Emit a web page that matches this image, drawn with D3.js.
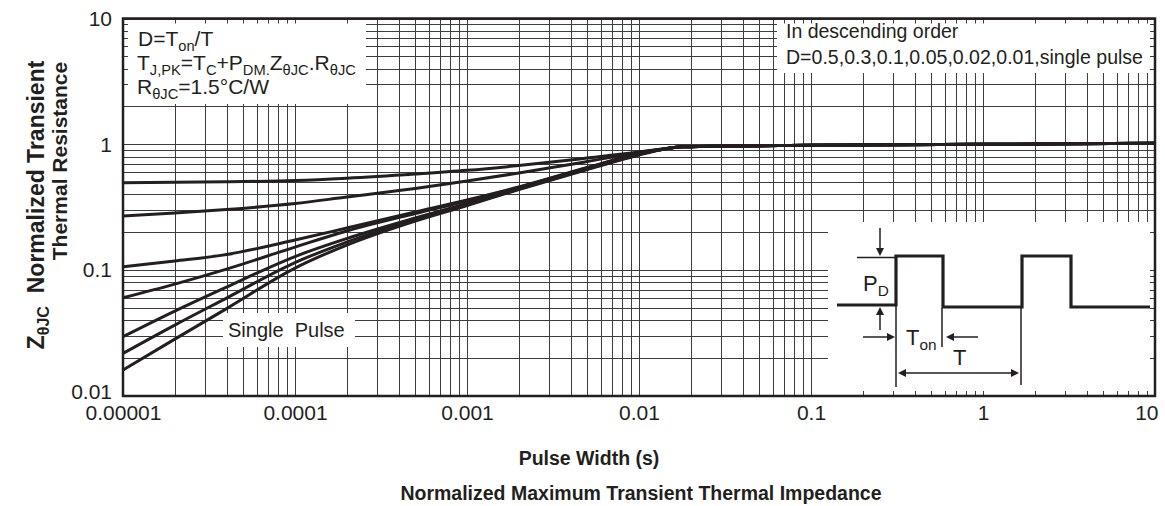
<!DOCTYPE html>
<html lang="en">
<head>
<meta charset="UTF-8">
<title>Normalized Maximum Transient Thermal Impedance</title>
<script src="https://d3js.org/d3.v7.min.js"></script>
<style>
  body { margin: 0; background: #fff; }
  svg text { font-family: "Liberation Sans", Arial, sans-serif; fill: #231f20; }
  .bold { font-weight: bold; }
</style>
</head>
<body>
<script>
const pulseWidth = [1e-5, 2e-5, 4e-5, 1e-4, 2e-4, 5e-4, 1e-3, 2e-3, 5e-3, 1e-2, 0.0132, 0.018, 0.1, 1, 10];
const dutyLabels = ["0.5", "0.3", "0.1", "0.05", "0.02", "0.01", "single pulse"];
const zD05 = [0.4953, 0.4988, 0.5044, 0.5155, 0.5377, 0.5806, 0.6214, 0.6785, 0.7782, 0.8685, 0.9127, 0.957, 0.982, 1.0, 1.018];
const zD03 = [0.2692, 0.2844, 0.3032, 0.3383, 0.3812, 0.4453, 0.5108, 0.5915, 0.7298, 0.8605, 0.909, 0.957, 0.982, 1.0, 1.018];
const zD01 = [0.1064, 0.1181, 0.1330, 0.1735, 0.2161, 0.2896, 0.3607, 0.4578, 0.6541, 0.8452, 0.905, 0.957, 0.982, 1.0, 1.018];
const zD005 = [0.0603, 0.0775, 0.1020, 0.1526, 0.2046, 0.2818, 0.3542, 0.4536, 0.6481, 0.8421, 0.904, 0.957, 0.982, 1.0, 1.018];
const zD002 = [0.0296, 0.0473, 0.0734, 0.1283, 0.1783, 0.2595, 0.3383, 0.4453, 0.6422, 0.8375, 0.904, 0.957, 0.982, 1.0, 1.018];
const zD001 = [0.0218, 0.0366, 0.0600, 0.1149, 0.1673, 0.2524, 0.3323, 0.4413, 0.6364, 0.8298, 0.904, 0.957, 0.982, 1.0, 1.018];
const zSingle = [0.0161, 0.0283, 0.0495, 0.1039, 0.1583, 0.2456, 0.3263, 0.4372, 0.6306, 0.8222, 0.903, 0.957, 0.982, 1.0, 1.018];

const xTickValues = [1e-5, 1e-4, 1e-3, 1e-2, 0.1, 1, 10];
const xTickLabels = ["0.00001", "0.0001", "0.001", "0.01", "0.1", "1", "10"];
const yTickValues = [0.01, 0.1, 1, 10];
const yTickLabels = ["0.01", "0.1", "1", "10"];

const W = 1165, H = 506;
const plot = { left: 123, right: 1155, top: 18.5, bottom: 396 };
const ink = "#231f20";

const svg = d3.select("body").append("svg")
    .attr("width", W)
    .attr("height", H);

const x = d3.scaleLog().domain([1e-5, 10]).range([plot.left, plot.right]);
const y = d3.scaleLog().domain([0.01, 10]).range([plot.bottom, plot.top]);

// log grid
const grid = svg.append("g")
    .attr("stroke", "#3c3c3c")
    .attr("stroke-width", 1)
    .attr("shape-rendering", "crispEdges");
grid.selectAll(".vx").data(x.ticks()).join("line")
    .attr("x1", d => Math.round(x(d)) + 0.5).attr("x2", d => Math.round(x(d)) + 0.5)
    .attr("y1", plot.top).attr("y2", plot.bottom);
grid.selectAll(".hy").data(y.ticks()).join("line")
    .attr("y1", d => Math.round(y(d)) + 0.5).attr("y2", d => Math.round(y(d)) + 0.5)
    .attr("x1", plot.left).attr("x2", plot.right);

// white label boxes laid over the grid
const boxes = [
  { x0: plot.left + 5, x1: 366, y0: plot.top + 5, y1: 104 },
  { x0: 777, x1: plot.right - 5, y0: plot.top + 5, y1: 73 },
  { x0: 223, x1: 355, y0: 313, y1: 347 },
  { x0: 828, x1: plot.right - 5, y0: 222, y1: plot.bottom - 5 }
];
svg.append("g").selectAll("rect").data(boxes).join("rect")
    .attr("x", d => d.x0).attr("y", d => d.y0)
    .attr("width", d => d.x1 - d.x0).attr("height", d => d.y1 - d.y0)
    .attr("fill", "#fff");

// curves
const series = [zD05, zD03, zD01, zD005, zD002, zD001, zSingle];
const line = d3.line()
    .x(d => x(d[0]))
    .y(d => y(d[1]))
    .curve(d3.curveMonotoneX);
svg.append("g").selectAll("path").data(series).join("path")
    .attr("d", s => line(pulseWidth.map((p, i) => [p, s[i]])))
    .attr("fill", "none")
    .attr("stroke", ink)
    .attr("stroke-width", 3)
    .attr("stroke-linejoin", "round");

// frame
svg.append("rect")
    .attr("x", plot.left).attr("y", plot.top)
    .attr("width", plot.right - plot.left).attr("height", plot.bottom - plot.top)
    .attr("fill", "none").attr("stroke", ink).attr("stroke-width", 2.5);

// axes labels
const xAxis = svg.append("g")
    .attr("transform", `translate(0,${plot.bottom})`)
    .call(d3.axisBottom(x).tickValues(xTickValues).tickFormat((d, i) => xTickLabels[i]).tickSize(0).tickPadding(9));
xAxis.select(".domain").remove();
xAxis.selectAll("text").attr("font-size", 21).attr("fill", ink);
xAxis.selectAll(".tick:last-of-type text").attr("text-anchor", "end").attr("dx", 3);

const yAxis = svg.append("g")
    .attr("transform", `translate(${plot.left},0)`)
    .call(d3.axisLeft(y).tickValues(yTickValues).tickFormat((d, i) => yTickLabels[i]).tickSize(0).tickPadding(11));
yAxis.select(".domain").remove();
yAxis.selectAll("text").attr("font-size", 21).attr("fill", ink);
yAxis.selectAll(".tick:first-of-type text").attr("dy", "0.12em");

// text with subscripts
function richText(g, tx, ty, parts, size) {
  const t = g.append("text").attr("x", tx).attr("y", ty).attr("font-size", size);
  let down = false;
  parts.forEach(p => {
    const s = t.append("tspan").text(p[0]);
    if (p[1]) {
      s.attr("font-size", size * 0.7);
      if (!down) { s.attr("dy", size * 0.22); down = true; }
    } else if (down) {
      s.attr("dy", -size * 0.22); down = false;
    }
  });
  return t;
}

const notes = svg.append("g");
richText(notes, 138, 46, [["D=T"], ["on", 1], ["/T"]], 21);
richText(notes, 137, 70, [["T"], ["J,PK", 1], ["=T"], ["C", 1], ["+P"], ["DM.", 1], ["Z"], ["θJC", 1], ["."], ["R"], ["θJC", 1]], 21);
richText(notes, 137, 94, [["R"], ["θJC", 1], ["=1.5°C/W"]], 21);

notes.append("text").attr("x", 786).attr("y", 38).attr("font-size", 19.5)
    .text("In descending order");
notes.append("text").attr("x", 786).attr("y", 64).attr("font-size", 19.5)
    .attr("textLength", 357).attr("lengthAdjust", "spacingAndGlyphs")
    .text("D=" + dutyLabels.join(","));
notes.append("text").attr("x", 228).attr("y", 337).attr("font-size", 20)
    .text("Single\u00a0 Pulse");

// pulse sketch inset
const ins = svg.append("g").attr("fill", "none").attr("stroke", ink);
ins.append("path").attr("stroke-width", 3.2)
    .attr("d", "M837,305H896V256H943V307H1022V256H1071V307H1150");
ins.append("path").attr("stroke-width", 1.5)
    .attr("d", "M857,257.5H896M880,228V250M880,314V330M863,337H889M896,306V387M942,308V347M953,337H978M904,373H1013M1021,308V385");
function head(px, py, dir) {
  const L = 8, w = 4;
  const pts = {
    down: [[px, py], [px - w, py - L], [px + w, py - L]],
    up: [[px, py], [px - w, py + L], [px + w, py + L]],
    right: [[px, py], [px - L, py - w], [px - L, py + w]],
    left: [[px, py], [px + L, py - w], [px + L, py + w]]
  }[dir];
  svg.append("path").attr("d", "M" + pts.join("L") + "Z").attr("fill", ink);
}
head(880, 256, "down");
head(880, 307, "up");
head(895, 337, "right");
head(946, 337, "left");
head(898, 373, "left");
head(1019, 373, "right");
richText(notes, 863, 291, [["P"], ["D", 1]], 22);
richText(notes, 906, 345, [["T"], ["on", 1]], 22);
notes.append("text").attr("x", 953).attr("y", 365).attr("font-size", 22).text("T");

// axis titles
svg.append("text").attr("class", "bold")
    .attr("x", 589).attr("y", 465).attr("text-anchor", "middle").attr("font-size", 19.5)
    .text("Pulse Width (s)");
svg.append("text").attr("class", "bold")
    .attr("x", 641).attr("y", 500).attr("text-anchor", "middle").attr("font-size", 19.5)
    .text("Normalized Maximum Transient Thermal Impedance");

const yt1 = svg.append("g").attr("transform", "translate(44,205) rotate(-90)");
const t1 = richText(yt1, 0, 0, [["Z"], ["θJC", 1], ["\u00a0 Normalized Transient"]], 23);
t1.attr("class", "bold").attr("text-anchor", "middle");
svg.append("text").attr("class", "bold")
    .attr("transform", "translate(67,161) rotate(-90)")
    .attr("text-anchor", "middle").attr("font-size", 21)
    .text("Thermal Resistance");
</script>
</body>
</html>
